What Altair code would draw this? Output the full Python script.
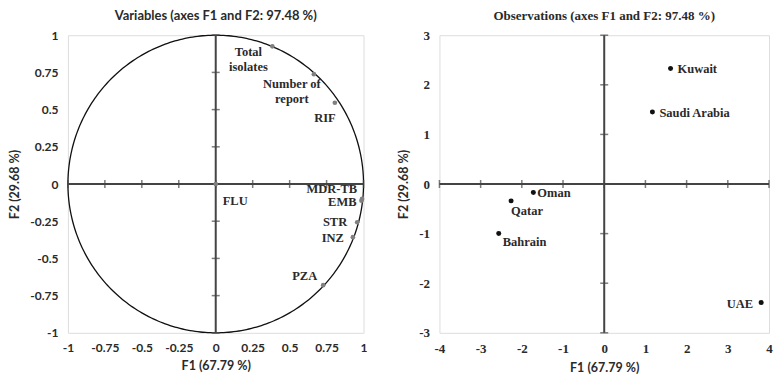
import altair as alt
import pandas as pd
import numpy as np

# Variables (correlation circle)
var_names = ["Total isolates", "Number of report", "RIF", "MDR-TB", "EMB", "STR", "INZ", "PZA", "FLU"]
var_f1 = [0.383, 0.664, 0.806, 0.99, 0.986, 0.957, 0.928, 0.727, 0.0]
var_f2 = [0.925, 0.738, 0.546, -0.10, -0.112, -0.257, -0.357, -0.68, 0.0]

# Observations
obs_names = ["Kuwait", "Saudi Arabia", "Oman", "Qatar", "Bahrain", "UAE"]
obs_f1 = [1.61, 1.17, -1.72, -2.26, -2.56, 3.81]
obs_f2 = [2.33, 1.45, -0.17, -0.34, -1.0, -2.39]

left_ticks = [-1, -0.75, -0.5, -0.25, 0, 0.25, 0.5, 0.75, 1]
right_xticks = [-4, -3, -2, -1, 0, 1, 2, 3, 4]
right_yticks = [-3, -2, -1, 0, 1, 2, 3]

title_left = "Variables (axes F1 and F2: 97.48 %)"
title_right = "Observations (axes F1 and F2: 97.48 %)"
xtitle = "F1 (67.79 %)"
ytitle = "F2 (29.68 %)"

SANS = "Lato"
SERIF = "Liberation Serif"
TXT = "#2a2a2a"
AXC = "#444444"

var_df = pd.DataFrame({"name": var_names, "f1": var_f1, "f2": var_f2})
obs_df = pd.DataFrame({"name": obs_names, "f1": obs_f1, "f2": obs_f2})

theta = np.linspace(0, 2 * np.pi, 361)
circle_df = pd.DataFrame({"f1": np.cos(theta), "f2": np.sin(theta), "i": np.arange(361)})


def axes(dom_x, dom_y, vx, vy, label_font, label_size):
    common = dict(grid=False, domain=False, ticks=False, labelOverlap=False, labelFlush=False,
                  labelExpr="datum.value + ''",
                  labelFont=label_font, labelFontWeight="bold", labelFontSize=label_size, labelColor=TXT,
                  titleFont=SANS, titleFontWeight="bold", titleFontSize=12.5, titleColor=TXT)
    x = alt.X("f1:Q", scale=alt.Scale(domain=dom_x, nice=False, zero=False),
              axis=alt.Axis(values=vx, title=xtitle, labelPadding=10, titlePadding=6, **common))
    y = alt.Y("f2:Q", scale=alt.Scale(domain=dom_y, nice=False, zero=False),
              axis=alt.Axis(values=vy, title=ytitle, labelPadding=10, titlePadding=8, **common))
    return x, y


def cross(ticks_x, ticks_y, x, y):
    zero = pd.DataFrame({"f1": [0], "f2": [0]})
    vline = alt.Chart(zero).mark_rule(color=AXC, strokeWidth=2).encode(x=x)
    hline = alt.Chart(zero).mark_rule(color=AXC, strokeWidth=2).encode(y=y)
    tx = alt.Chart(pd.DataFrame({"f1": ticks_x, "f2": [0] * len(ticks_x)})).mark_tick(
        orient="vertical", color=AXC, size=8, thickness=1.5).encode(x=x, y=y)
    ty = alt.Chart(pd.DataFrame({"f1": [0] * len(ticks_y), "f2": ticks_y})).mark_tick(
        orient="horizontal", color=AXC, size=8, thickness=1.5).encode(x=x, y=y)
    return [vline, hline, tx, ty]


def labels(df, x, y, spec):
    out = []
    for name, (align, baseline, dx, dy) in spec.items():
        out.append(alt.Chart(df).transform_filter(alt.datum.name == name).mark_text(
            align=align, baseline=baseline, dx=dx, dy=dy, font=SERIF, fontWeight="bold",
            fontSize=12.5, color=TXT, lineBreak="\n", lineHeight=15).encode(
            x=x, y=y, text="label:N"))
    return out


# Left chart
lx, ly = axes([-1, 1], [-1, 1], left_ticks, left_ticks, SANS, 12)
circle = alt.Chart(circle_df).mark_line(color="#111111", strokeWidth=1.3).encode(x=lx, y=ly, order="i:Q")
var_lab = var_df.assign(label=var_df["name"].replace({"Total isolates": "Total\nisolates",
                                                      "Number of report": "Number of\nreport"}))
var_pts = alt.Chart(var_df).mark_circle(color="#808080", size=22, opacity=1).encode(x=lx, y=ly)
var_spec = {
    "Total isolates": ("center", "top", -24, 0),
    "Number of report": ("center", "top", -22, 4),
    "RIF": ("center", "middle", -10, 15),
    "MDR-TB": ("right", "middle", -5, -10),
    "EMB": ("right", "middle", -5, 1),
    "STR": ("right", "middle", -10, 0),
    "INZ": ("right", "middle", -9, 1),
    "PZA": ("right", "middle", -6, -9),
    "FLU": ("left", "middle", 7, 17),
}
left = alt.layer(circle, *cross(left_ticks, left_ticks, lx, ly), var_pts,
                 *labels(var_lab, lx, ly, var_spec)).properties(
    width=296, height=298,
    title=alt.TitleParams(title_left, font=SANS, fontWeight="bold", fontSize=13, color=TXT, offset=6))

# Right chart
rx, ry = axes([-4, 4], [-3, 3], right_xticks, right_yticks, SERIF, 13)
obs_pts = alt.Chart(obs_df).mark_circle(color="#111111", size=25, opacity=1).encode(x=rx, y=ry)
obs_lab = obs_df.assign(label=obs_df["name"])
obs_spec = {
    "Kuwait": ("left", "middle", 7, 1),
    "Saudi Arabia": ("left", "middle", 7, 1),
    "Oman": ("left", "middle", 4, 1),
    "Qatar": ("left", "middle", 0, 10),
    "Bahrain": ("left", "middle", 4, 8),
    "UAE": ("right", "middle", -8, 1),
}
right = alt.layer(*cross(right_xticks, right_yticks, rx, ry), obs_pts,
                  *labels(obs_lab, rx, ry, obs_spec)).properties(
    width=330, height=298,
    title=alt.TitleParams(title_right, font=SERIF, fontWeight="bold", fontSize=13, color=TXT, offset=6))

chart = alt.hconcat(left, right, spacing=29).configure_view(
    stroke="#555555", strokeWidth=2).configure(
    background="white", padding={"left": 0, "top": 1, "right": 0, "bottom": 0})

chart.save("out.html", embed_options={"renderer": "svg", "actions": False})
